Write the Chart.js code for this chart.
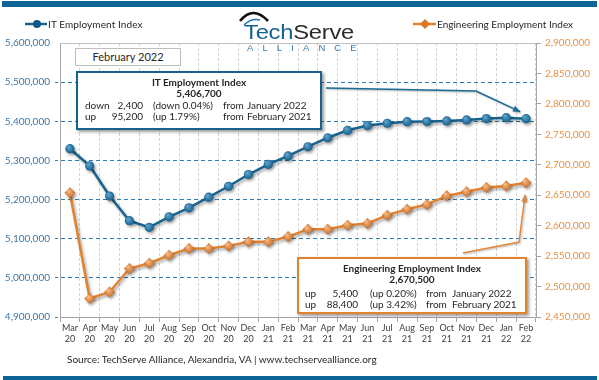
<!DOCTYPE html>
<html>
<head>
<meta charset="utf-8">
<script src="https://cdn.jsdelivr.net/npm/chart.js@4/dist/chart.umd.min.js"></script>
<style>
  html,body{margin:0;padding:0;background:#fff;}
  #wrap{position:relative;width:599px;height:380px;overflow:hidden;font-family:Lato,"Liberation Sans",sans-serif;color:#262626;}
  #c{position:absolute;left:0;top:0;}
  .abs{position:absolute;white-space:nowrap;}
  .bar{position:absolute;background:#0E6494;}
  .box{position:absolute;background:#fff;box-sizing:border-box;}
  .ln{position:absolute;left:0;right:0;text-align:center;font-size:10px;line-height:12px;}
  .cell{position:absolute;font-size:10px;line-height:12px;}
</style>
</head>
<body>
<div id="wrap">
  <div class="bar" style="left:2px;top:1px;width:595px;height:6px;"></div>
  <canvas id="c" width="599" height="380"></canvas>

  <!-- legends -->
  <div class="abs" style="left:24px;top:17px;height:14px;">
    <svg width="24" height="14" style="position:absolute;left:0;top:0"><line x1="1" y1="7" x2="23" y2="7" stroke="#17638F" stroke-width="2.5"/><circle cx="13" cy="7" r="4" fill="#0F5A85"/></svg>
    <span class="abs" style="left:24px;top:0;font-size:10px;line-height:14px;letter-spacing:0.1px;">IT Employment Index</span>
  </div>
  <div class="abs" style="left:412px;top:17px;height:14px;">
    <svg width="25" height="14" style="position:absolute;left:0;top:0"><line x1="1" y1="7" x2="24" y2="7" stroke="#E2822F" stroke-width="2.5"/><polygon points="13,2 18,7 13,12 8,7" fill="#D9782A"/></svg>
    <span class="abs" style="left:25px;top:0;font-size:10px;line-height:14px;">Engineering Employment Index</span>
  </div>

  <!-- logo -->
  <svg class="abs" style="left:236px;top:8px" width="40" height="20">
    <path d="M4,13 Q17,-3 32,13" fill="none" stroke="#111" stroke-width="2.6"/>
    <path d="M8,17 Q15,10 24,12" fill="none" stroke="#1F78B4" stroke-width="1.6"/>
  </svg>
  <div class="abs" style="left:244px;top:22px;font-family:'Liberation Sans',Arial,sans-serif;font-size:21px;line-height:20px;transform-origin:0 0;transform:scaleX(1.13);letter-spacing:-0.2px;"><span style="color:#14638F">Tech</span><span style="color:#2b2b2b">Serve</span></div>
  <div class="abs" style="left:247px;top:42px;font-family:'Liberation Sans',Arial,sans-serif;font-size:9.5px;line-height:11px;letter-spacing:9.1px;color:#2A7FB8;">ALLIANCE</div>

  <!-- February box -->
  <div class="box" style="left:75px;top:48px;width:106px;height:18px;border:1px solid #BFBFBF;">
    <div class="ln" style="top:2px;font-size:11px;">February 2022</div>
  </div>

  <!-- IT box -->
  <div class="box" style="left:76px;top:71px;width:246px;height:59px;border:2px solid #17638F;box-shadow:2px 2px 3px rgba(0,0,0,0.4);">
    <div class="ln" style="top:3px;font-weight:bold;">IT Employment Index</div>
    <div class="ln" style="top:14px;font-weight:bold;">5,406,700</div>
    <div class="cell" style="left:7px;top:26px;">down</div>
    <div class="cell" style="right:177px;top:26px;">2,400</div>
    <div class="cell" style="left:75px;top:26px;">(down 0.04%)</div>
    <div class="cell" style="left:145px;top:26px;">from</div>
    <div class="cell" style="left:169px;top:26px;">January 2022</div>
    <div class="cell" style="left:7px;top:37px;">up</div>
    <div class="cell" style="right:177px;top:37px;">95,200</div>
    <div class="cell" style="left:75px;top:37px;">(up 1.79%)</div>
    <div class="cell" style="left:145px;top:37px;">from</div>
    <div class="cell" style="left:169px;top:37px;">February 2021</div>
  </div>

  <!-- Engineering box -->
  <div class="box" style="left:297px;top:257px;width:230px;height:57px;border:2px solid #E2822F;box-shadow:2px 2px 3px rgba(0,0,0,0.4);">
    <div class="ln" style="top:3px;font-weight:bold;">Engineering Employment Index</div>
    <div class="ln" style="top:14px;font-weight:bold;">2,670,500</div>
    <div class="cell" style="left:6px;top:28px;">up</div>
    <div class="cell" style="right:167px;top:28px;">5,400</div>
    <div class="cell" style="left:71px;top:28px;">(up 0.20%)</div>
    <div class="cell" style="left:127px;top:28px;">from</div>
    <div class="cell" style="left:153px;top:28px;">January 2022</div>
    <div class="cell" style="left:6px;top:39px;">up</div>
    <div class="cell" style="right:167px;top:39px;">88,400</div>
    <div class="cell" style="left:71px;top:39px;">(up 3.42%)</div>
    <div class="cell" style="left:127px;top:39px;">from</div>
    <div class="cell" style="left:153px;top:39px;">February 2021</div>
  </div>

  <div class="abs" style="left:67px;top:352px;font-size:10px;line-height:14px;">Source: TechServe Alliance, Alexandria, VA | www.techservealliance.org</div>
  <div class="bar" style="left:3px;top:376px;width:594px;height:4px;"></div>
</div>

<script>
// ---- data ----
const months = ['Mar','Apr','May','Jun','Jul','Aug','Sep','Oct','Nov','Dec','Jan','Feb',
                'Mar','Apr','May','Jun','Jul','Aug','Sep','Oct','Nov','Dec','Jan','Feb'];
const years  = ['20','20','20','20','20','20','20','20','20','20','21','21',
                '21','21','21','21','21','21','21','21','21','21','22','22'];
const itIndex = [5330000, 5286000, 5209000, 5146000, 5129000, 5156000, 5179000, 5206000,
                 5234000, 5264000, 5290000, 5311500, 5335000, 5358000, 5377000, 5389000,
                 5395000, 5399000, 5399500, 5401000, 5403500, 5407000, 5409100, 5406700];
const engIndex = [2654000, 2480300, 2491000, 2529600, 2538300, 2551500, 2562500, 2562500,
                  2566800, 2573400, 2573400, 2582100, 2594000, 2594000, 2600800, 2603600,
                  2617300, 2627100, 2634900, 2649000, 2655600, 2662800, 2665100, 2670500];
const itTicks  = [4900000, 5000000, 5100000, 5200000, 5300000, 5400000, 5500000, 5600000];
const engTicks = [2450000, 2500000, 2550000, 2600000, 2650000, 2700000, 2750000, 2800000, 2850000, 2900000];

const labels = months.map((m, i) => [m, years[i]]);
const fmt = v => Number(v).toLocaleString('en-US');

function gradFill(axisId, inner, outer, fallback) {
  return function (ctx) {
    if (ctx.type !== 'data') return fallback;
    try {
      const ch = ctx.chart;
      const x = ch.scales.x.getPixelForValue(ctx.dataIndex);
      const y = ch.scales[axisId].getPixelForValue(ctx.raw);
      if (!isFinite(x) || !isFinite(y)) return fallback;
      const g = ch.ctx.createRadialGradient(x - 1.5, y - 1.8, 0.3, x, y, 5.5);
      g.addColorStop(0, inner);
      g.addColorStop(1, outer);
      return g;
    } catch (e) { return fallback; }
  };
}

const shadowPlugin = {
  id: 'shadow',
  beforeDatasetDraw(chart) {
    const c = chart.ctx; c.save();
    c.shadowColor = 'rgba(0,0,0,0.35)'; c.shadowBlur = 3; c.shadowOffsetX = 1.5; c.shadowOffsetY = 2;
  },
  afterDatasetDraw(chart) { chart.ctx.restore(); }
};

function arrow(c, pts, color) {
  c.save();
  c.strokeStyle = color; c.fillStyle = color; c.lineWidth = 1.5;
  c.shadowColor = 'rgba(0,0,0,0.3)'; c.shadowBlur = 2; c.shadowOffsetX = 1; c.shadowOffsetY = 1;
  c.beginPath(); c.moveTo(pts[0][0], pts[0][1]);
  for (let i = 1; i < pts.length; i++) c.lineTo(pts[i][0], pts[i][1]);
  c.stroke();
  const [x1, y1] = pts[pts.length - 2], [x2, y2] = pts[pts.length - 1];
  const a = Math.atan2(y2 - y1, x2 - x1), L = 7, W = 3.2;
  c.beginPath();
  c.moveTo(x2, y2);
  c.lineTo(x2 - L * Math.cos(a) + W * Math.sin(a), y2 - L * Math.sin(a) - W * Math.cos(a));
  c.lineTo(x2 - L * Math.cos(a) - W * Math.sin(a), y2 - L * Math.sin(a) + W * Math.cos(a));
  c.closePath(); c.fill();
  c.restore();
}

const decorPlugin = {
  id: 'decor',
  afterDraw(chart) {
    const c = chart.ctx, a = chart.chartArea;
    c.save();
    c.strokeStyle = '#BFBFBF'; c.lineWidth = 1;
    c.beginPath(); c.moveTo(a.left, a.top + 0.5); c.lineTo(a.right, a.top + 0.5); c.stroke();
    c.restore();
    const last = labels.length - 1;
    const px = chart.scales.x.getPixelForValue(last);
    const pyIT = chart.scales.yIT.getPixelForValue(itIndex[last]);
    const pyEng = chart.scales.yEng.getPixelForValue(engIndex[last]);
    arrow(c, [[326, 88], [476, 91], [px - 6, pyIT - 7]], '#1A6A96');
    arrow(c, [[463, 253], [519, 242], [px - 1, pyEng + 12]], '#E58A3C');
  }
};

new Chart(document.getElementById('c'), {
  type: 'line',
  data: {
    labels: labels,
    datasets: [
      {
        label: 'IT Employment Index', data: itIndex, yAxisID: 'yIT',
        borderColor: '#17638F', borderWidth: 2.5, tension: 0,
        pointStyle: 'circle', pointRadius: 4.6, pointBorderWidth: 0,
        pointBackgroundColor: gradFill('yIT', '#5FA6D0', '#0B5580', '#0F5A85')
      },
      {
        label: 'Engineering Employment Index', data: engIndex, yAxisID: 'yEng',
        borderColor: '#E2822F', borderWidth: 2.5, tension: 0,
        pointStyle: 'rectRot', pointRadius: 5.5, pointBorderWidth: 0,
        pointBackgroundColor: gradFill('yEng', '#F7BC85', '#C8661C', '#D9782A')
      }
    ]
  },
  options: {
    responsive: false, animation: false, devicePixelRatio: 1,
    layout: { padding: { top: 43, left: 0, right: 0, bottom: 0 } },
    plugins: { legend: { display: false }, tooltip: { enabled: false } },
    scales: {
      x: {
        offset: true,
        grid: { offset: true, color: '#D4D4D4', lineWidth: 1, tickLength: 5, tickColor: '#A6A6A6', tickBorderDash: [] },
        border: { color: '#A6A6A6', dash: [3, 2] },
        ticks: { color: '#404040', font: { family: 'Lato', size: 9 }, padding: 1, maxRotation: 0, autoSkip: false },
        afterFit(s) { s.height = 63; }
      },
      yIT: {
        position: 'left', min: 4900000, max: 5600000,
        afterBuildTicks(s) { s.ticks = itTicks.map(v => ({ value: v })); },
        grid: {
          color: ctx => (ctx.tick && ctx.tick.value === 5600000) ? 'rgba(0,0,0,0)' : '#2E7DB4',
          lineWidth: 1, tickLength: 5, tickColor: ctx => (ctx.tick && ctx.tick.value === 5600000) ? 'rgba(0,0,0,0)' : '#2E7DB4', tickBorderDash: [3, 2]
        },
        border: { color: '#A6A6A6', dash: [4, 3] },
        ticks: { color: '#3B78AA', font: { family: 'Lato', size: 10 }, padding: 5, callback: v => fmt(v) },
        afterFit(s) { s.width = 60; }
      },
      yEng: {
        position: 'right', min: 2450000, max: 2900000,
        afterBuildTicks(s) { s.ticks = engTicks.map(v => ({ value: v })); },
        grid: { drawOnChartArea: false, tickLength: 5, tickColor: '#A6A6A6' },
        border: { color: '#A6A6A6' },
        ticks: { color: '#E8913F', font: { family: 'Lato', size: 10 }, padding: 4, callback: v => fmt(v) },
        afterFit(s) { s.width = 63; }
      }
    }
  },
  plugins: [shadowPlugin, decorPlugin]
});
</script>
</body>
</html>
